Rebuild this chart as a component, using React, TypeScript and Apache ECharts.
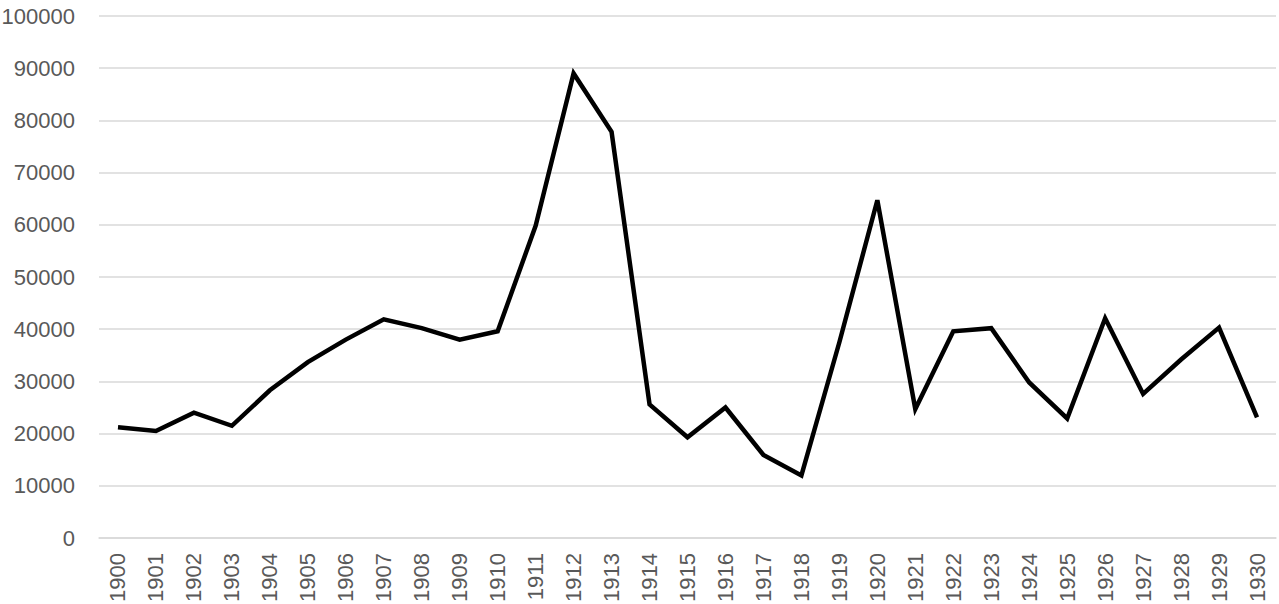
import React, { useEffect, useRef } from "react";
import * as echarts from "echarts";

const years: string[] = [
  "1900","1901","1902","1903","1904","1905","1906","1907","1908","1909",
  "1910","1911","1912","1913","1914","1915","1916","1917","1918","1919",
  "1920","1921","1922","1923","1924","1925","1926","1927","1928","1929","1930",
];

const values: number[] = [
  21200, 20500, 24000, 21500, 28300, 33700, 38000, 41900, 40200, 38000,
  39600, 59800, 89000, 77800, 25600, 19300, 25000, 15900, 12000, 37500,
  64700, 24700, 39600, 40200, 29800, 22900, 42100, 27600, 34200, 40300, 23100,
];

const yMin = 0;
const yMax = 100000;
const yStep = 10000;

export default function App() {
  const ref = useRef<HTMLDivElement>(null);
  useEffect(() => {
    if (!ref.current) return;
    const chart = echarts.init(ref.current, null, { renderer: "svg" });
    const font = "Liberation Sans";
    chart.setOption({
      animation: false,
      backgroundColor: "#ffffff",
      grid: {
        left: 99,
        right: 3,
        top: 16,
        bottom: 66,
        containLabel: false,
        outerBoundsMode: "none",
      },
      xAxis: {
        type: "category",
        data: years,
        boundaryGap: true,
        axisLine: { show: true, lineStyle: { color: "#d9d9d9", width: 1.5 } },
        axisTick: { show: false },
        axisLabel: {
          rotate: 90,
          margin: 15,
          interval: 0,
          color: "#595959",
          fontSize: 22,
          fontFamily: font,
        },
        splitLine: { show: false },
      },
      yAxis: {
        type: "value",
        min: yMin,
        max: yMax,
        interval: yStep,
        axisLine: { show: false },
        axisTick: { show: false },
        axisLabel: {
          margin: 24,
          color: "#595959",
          fontSize: 22,
          fontFamily: font,
          formatter: (v: number) => String(v),
        },
        splitLine: { show: true, lineStyle: { color: "#d9d9d9", width: 1.5 } },
      },
      series: [
        {
          type: "line",
          data: values,
          showSymbol: false,
          symbol: "none",
          lineStyle: { color: "#000000", width: 4.5, join: "miter" },
          itemStyle: { color: "#000000" },
        },
      ],
    });
    return () => chart.dispose();
  }, []);
  return (
    <div
      ref={ref}
      style={{ position: "absolute", left: 0, top: 0, width: 1279, height: 604 }}
    />
  );
}
